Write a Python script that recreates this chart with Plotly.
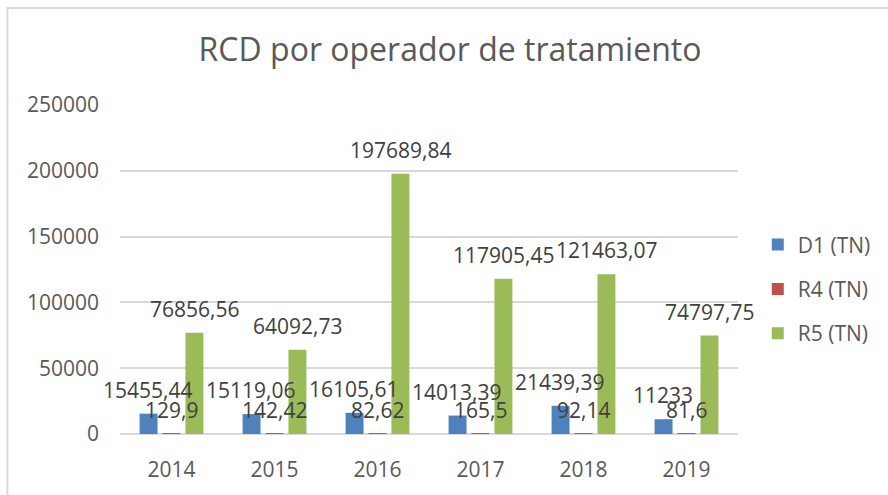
import plotly.graph_objects as go

years = ["2014", "2015", "2016", "2017", "2018", "2019"]
d1 = [15455.44, 15119.06, 16105.61, 14013.39, 21439.39, 11233]
r4 = [129.9, 142.42, 82.62, 165.5, 92.14, 81.6]
r5 = [76856.56, 64092.73, 197689.84, 117905.45, 121463.07, 74797.75]
y_ticks = [0, 50000, 100000, 150000, 200000, 250000]

series = [("D1 (TN)", d1, "#4f81bd"), ("R4 (TN)", r4, "#c0504d"), ("R5 (TN)", r5, "#9bbb59")]


def fmt(v):
    s = ("%.2f" % v).rstrip("0").rstrip(".")
    return s.replace(".", ",")


FONT = "Open Sans, Liberation Sans, sans-serif"
BARGAP = 0.332
PLOT_W = 620
slot_px = PLOT_W / len(years) * (1 - BARGAP) / len(series)

fig = go.Figure()
annotations = []
for i, (name, vals, color) in enumerate(series):
    fig.add_trace(go.Bar(
        x=years, y=vals, name=name, marker_color=color, marker_line_width=0,
        legendgroup=name,
    ))
    for j, v in enumerate(vals):
        annotations.append(dict(
            x=j, y=v, xref="x", yref="y", text=fmt(v), showarrow=False,
            xanchor="center", yanchor="bottom", yshift=8,
            xshift=(i - (len(series) - 1) / 2) * slot_px,
            font=dict(family=FONT, size=21, color="#404040"),
        ))

fig.update_layout(
    width=888, height=495,
    margin=dict(l=120, r=148, t=105, b=58),
    paper_bgcolor="white", plot_bgcolor="white",
    barmode="group", bargap=BARGAP, bargroupgap=0.217,
    title=dict(text="RCD por operador de tratamiento", x=0.534, xref="paper", xanchor="center",
               y=1 - 50 / 495, yref="container", yanchor="middle",
               font=dict(family=FONT, size=32, color="#595959")),
    font=dict(family=FONT, size=21, color="#595959"),
    showlegend=True,
    legend=dict(x=1.032, y=0.637, xanchor="left", yanchor="top", tracegroupgap=14,
                font=dict(family=FONT, size=21, color="#595959"), bgcolor="rgba(0,0,0,0)"),
    xaxis=dict(type="category", range=[-0.5, len(years) - 0.5], showgrid=False, showline=False,
               ticks="", ticklabelstandoff=21,
               tickfont=dict(family=FONT, size=21, color="#595959")),
    yaxis=dict(range=[0, 250000], tickvals=y_ticks, ticktext=[str(v) for v in y_ticks],
               showgrid=True, gridcolor="#d9d9d9", gridwidth=1.5, zeroline=True,
               zerolinecolor="#d9d9d9", zerolinewidth=1.5, showline=False, ticks="",
               ticklabelstandoff=20, tickfont=dict(family=FONT, size=21, color="#595959")),
    annotations=annotations,
    shapes=[dict(type="rect", xref="paper", yref="paper",
                 x0=(7 - 120) / 620, x1=(900 - 120) / 620,
                 y0=(437 - 510) / 332, y1=(437 - 7) / 332,
                 line=dict(color="#d9d9d9", width=2), fillcolor="rgba(0,0,0,0)", layer="below")],
)
fig.write_html("out.html", config={"displayModeBar": False},
               post_script="document.body.style.margin='0';")
